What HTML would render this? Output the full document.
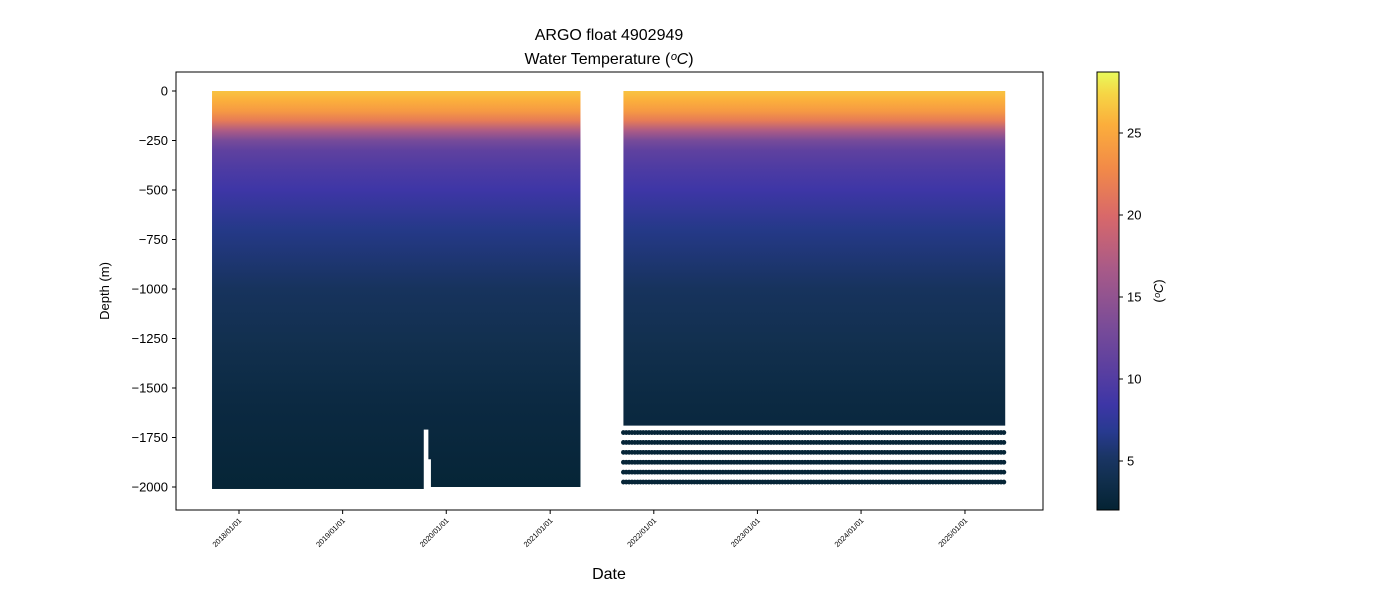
<!DOCTYPE html>
<html><head><meta charset="utf-8"><style>
body{margin:0;background:#fff}
svg{font-family:"Liberation Sans","DejaVu Sans",sans-serif}
</style></head><body>
<svg id="chart" width="1400" height="600" viewBox="0 0 1400 600">
<defs>
<linearGradient id="cbar" x1="0" y1="1" x2="0" y2="0"></linearGradient>
<linearGradient id="prof" x1="0" y1="0" x2="0" y2="1" gradientUnits="userSpaceOnUse"></linearGradient>
</defs>
<text x="609" y="40" text-anchor="middle" font-size="16">ARGO float 4902949</text>
<text x="609" y="64" text-anchor="middle" font-size="16">Water Temperature (<tspan font-style="italic">ᵒC</tspan>)</text>
<g id="plot"></g>
<rect x="176" y="72" width="867" height="438" fill="none" stroke="#000" stroke-width="1"/>
<g id="yaxis"></g>
<g id="xaxis"></g>
<text transform="translate(109,291) rotate(-90)" text-anchor="middle" font-size="13">Depth (m)</text>
<text x="609" y="579" text-anchor="middle" font-size="16">Date</text>
<rect x="1097" y="72" width="22" height="438" fill="url(#cbar)" stroke="#000" stroke-width="1"/>
<g id="cbaxis"></g>
<text transform="translate(1163,291) rotate(-90)" text-anchor="middle" font-size="13">(<tspan font-style="italic">ᵒC</tspan>)</text>
</svg>
<script>
const yTicks=[0,-250,-500,-750,-1000,-1250,-1500,-1750,-2000];
const xTickLabels=["2018/01/01","2019/01/01","2020/01/01","2021/01/01","2022/01/01","2023/01/01","2024/01/01","2025/01/01"];
const cbTicks=[5,10,15,20,25];
const profDepths=[0,50,100,150,200,250,300,400,500,700,1000,1300,1600,2000];
const profTemps=[26.5,25.5,24,21.5,17,13,11,9.5,8.5,6.5,4.8,3.8,3,2.3];
const segStart=["2017-09-28","2019-10-12","2019-10-30","2019-11-08","2021-09-16"];
const segEnd=["2019-10-12","2019-10-30","2019-11-08","2021-04-16","2025-05-21"];
const segDepth=[-2010,-1710,-1860,-2000,-1690];
const dotRows=[-1725,-1775,-1825,-1875,-1925,-1975];
const dotStart="2021-09-16", dotEnd="2025-05-21";
const tMin=2.0,tMax=28.7;
const NS="http://www.w3.org/2000/svg";
const cmap=[[0,"#042333"],[0.07,"#112f4e"],[0.12,"#1a3564"],[0.18,"#283a90"],[0.24,"#3d36a6"],[0.32,"#5a3fa0"],[0.42,"#7a4c98"],[0.55,"#a85a88"],[0.67,"#d8686a"],[0.78,"#f28a48"],[0.88,"#fbae3c"],[0.95,"#f6d545"],[1,"#e8fa5b"]];
function yS(d){return 91+(0-d)*0.198;}
function xS(s){const t=Date.parse(s);const t0=Date.parse("2018-01-01");return 239+(t-t0)/86400000/365.25*103.7;}
function cS(v){return 461-(v-5)*16.4;}
function mk(tag,attrs,parent){const e=document.createElementNS(NS,tag);for(const k in attrs)e.setAttribute(k,attrs[k]);parent.appendChild(e);return e;}
function colorAt(f){for(let i=1;i<cmap.length;i++){if(f<=cmap[i][0]){const a=cmap[i-1],b=cmap[i];const t=(f-a[0])/(b[0]-a[0]);const p=h=>[1,3,5].map(j=>parseInt(h.substr(j,2),16));const A=p(a[1]),B=p(b[1]);return "rgb("+A.map((x,k)=>Math.round(x+(B[k]-x)*t)).join(",")+")";}}return cmap[cmap.length-1][1];}
const cb=document.getElementById("cbar");
cmap.forEach(s=>mk("stop",{offset:s[0],"stop-color":s[1]},cb));
const pg=document.getElementById("prof");
pg.setAttribute("y1",yS(0));pg.setAttribute("y2",yS(-2000));
profDepths.forEach((d,i)=>{mk("stop",{offset:d/2000,"stop-color":colorAt((profTemps[i]-tMin)/(tMax-tMin))},pg);});
const plot=document.getElementById("plot");
segStart.forEach((s,i)=>{
const r=mk("rect",{x:xS(s),y:yS(0),width:xS(segEnd[i])-xS(s)+0.5,height:yS(segDepth[i])-yS(0),fill:"url(#prof)"},plot);


});
dotRows.forEach(d=>{
for(let t=Date.parse(dotStart);t<=Date.parse(dotEnd);t+=10*86400000){
const c=mk("circle",{cx:xS(new Date(t).toISOString().slice(0,10)),cy:yS(d),r:2.4,fill:colorAt((2.3-tMin)/(tMax-tMin))},plot);


}});
const ya=document.getElementById("yaxis");
yTicks.forEach(v=>{const y=yS(v);mk("line",{x1:172,x2:176,y1:y,y2:y,stroke:"#000"},ya);
const t=mk("text",{x:168,y:y+4.5,"text-anchor":"end","font-size":13},ya);t.textContent=v===0?"0":"\u2212"+Math.abs(v);

});
const xa=document.getElementById("xaxis");
xTickLabels.forEach(l=>{const x=xS(l.replace(/\//g,"-"));mk("line",{x1:x,x2:x,y1:510,y2:514,stroke:"#000"},xa);
const t=mk("text",{transform:"translate("+(x+3)+",521) rotate(-45)","text-anchor":"end","font-size":7.5},xa);t.textContent=l;

});
const ca=document.getElementById("cbaxis");
cbTicks.forEach(v=>{const y=cS(v);mk("line",{x1:1119,x2:1123,y1:y,y2:y,stroke:"#000"},ca);
const t=mk("text",{x:1127,y:y+4.5,"font-size":13},ca);t.textContent=v;

});
</script>
</body></html>
